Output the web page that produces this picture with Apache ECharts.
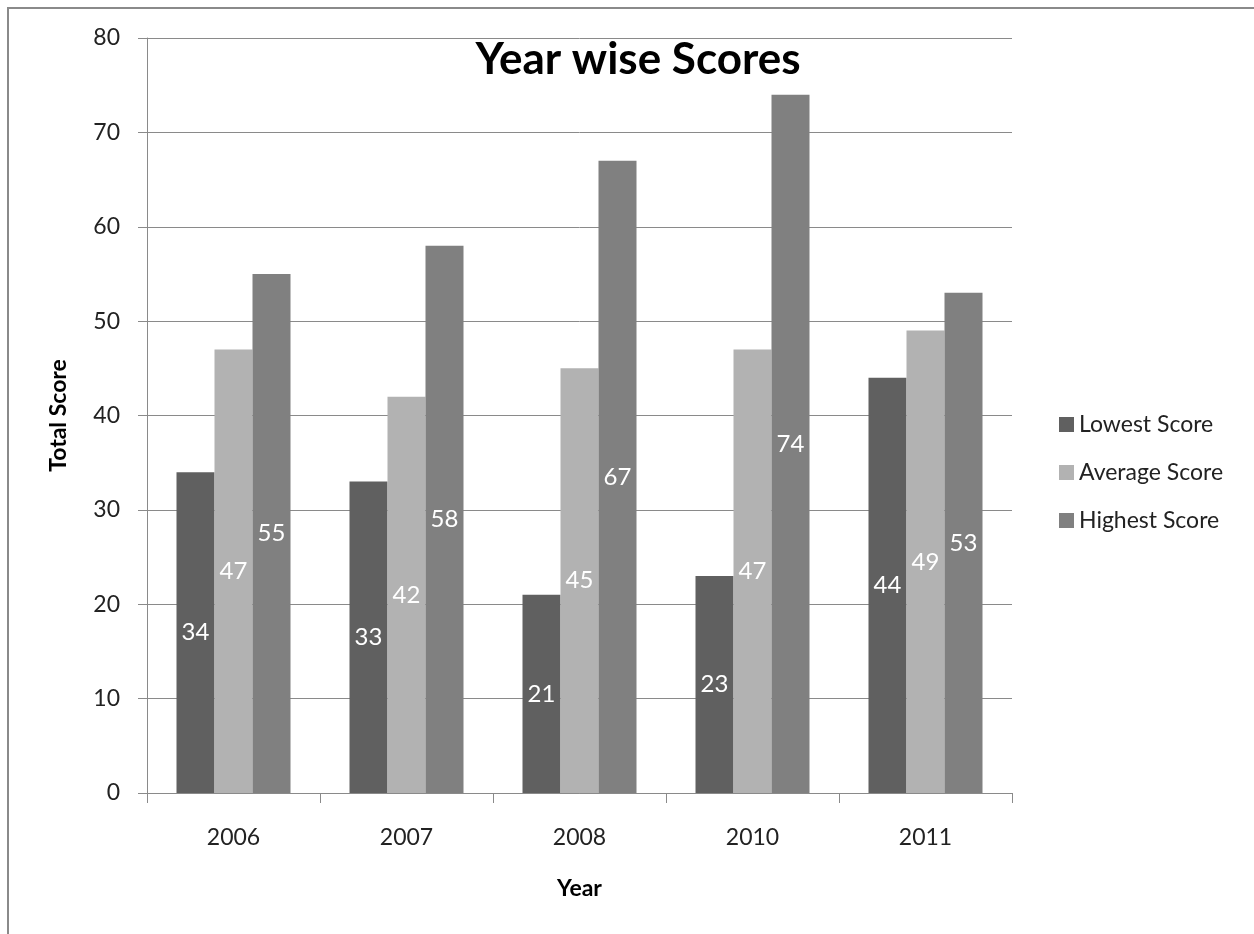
<!DOCTYPE html>
<html>
<head>
<meta charset="utf-8">
<script src="https://cdn.jsdelivr.net/npm/echarts@6/dist/echarts.min.js"></script>
<style>
  html, body { margin: 0; padding: 0; background: #fff; }
  #chart { width: 1254px; height: 934px; }
</style>
</head>
<body>
<div id="chart"></div>
<script>
// Years on the category axis
const years = ['2006', '2007', '2008', '2010', '2011'];
// Score series per year
const lowestScore = [34, 33, 21, 23, 44];
const averageScore = [47, 42, 45, 47, 49];
const highestScore = [55, 58, 67, 74, 53];
// Value axis ticks
const yTicks = [0, 10, 20, 30, 40, 50, 60, 70, 80];

const FONT = 'Lato, "Open Sans", sans-serif';
const chart = echarts.init(document.getElementById('chart'));

function barSeries(name, data, color) {
  return {
    name: name,
    type: 'bar',
    data: data,
    barWidth: 38,
    barGap: '0%',
    itemStyle: { color: color },
    label: {
      show: true,
      position: 'inside',
      color: '#ffffff',
      fontFamily: FONT,
      fontSize: 24,
      fontWeight: 'normal'
    }
  };
}

chart.setOption({
  animation: false,
  backgroundColor: '#ffffff',
  graphic: [{
    type: 'rect',
    shape: { x: 8, y: 8, width: 1270, height: 960 },
    style: { fill: 'none', stroke: '#8a8a8a', lineWidth: 2 },
    silent: true
  }],
  title: {
    text: 'Year wise Scores',
    left: 633,
    top: 33,
    textAlign: 'center',
    textStyle: { fontFamily: FONT, fontSize: 44, fontWeight: 'bold', color: '#000' }
  },
  legend: {
    orient: 'vertical',
    left: 1054,
    top: 408,
    itemWidth: 15,
    itemHeight: 15,
    itemGap: 25,
    icon: 'rect',
    textStyle: { fontFamily: FONT, fontSize: 23, color: '#222' },
    data: ['Lowest Score', 'Average Score', 'Highest Score']
  },
  grid: { left: 147, top: 38, width: 865, height: 755, containLabel: false },
  xAxis: {
    type: 'category',
    data: years,
    name: 'Year',
    nameLocation: 'middle',
    nameGap: 84,
    nameTextStyle: { fontFamily: FONT, fontSize: 23, fontWeight: 'bold', color: '#000' },
    axisLine: { lineStyle: { color: '#8a8a8a', width: 1 } },
    axisTick: { show: true, length: 10, alignWithLabel: false, lineStyle: { color: '#8a8a8a' } },
    axisLabel: { fontFamily: FONT, fontSize: 23, color: '#222', margin: 33 }
  },
  yAxis: {
    type: 'value',
    min: yTicks[0],
    max: yTicks[yTicks.length - 1],
    interval: 10,
    name: 'Total Score',
    nameLocation: 'middle',
    nameGap: 77,
    nameTextStyle: { fontFamily: FONT, fontSize: 23, fontWeight: 'bold', color: '#000' },
    axisLine: { show: true, lineStyle: { color: '#8a8a8a', width: 1 } },
    axisTick: { show: true, length: 9, lineStyle: { color: '#8a8a8a' } },
    axisLabel: { fontFamily: FONT, fontSize: 23, color: '#222', margin: 27 },
    splitLine: { show: true, lineStyle: { color: '#8a8a8a', width: 1 } }
  },
  series: [
    barSeries('Lowest Score', lowestScore, '#606060'),
    barSeries('Average Score', averageScore, '#b2b2b2'),
    barSeries('Highest Score', highestScore, '#808080')
  ]
});
</script>
</body>
</html>
